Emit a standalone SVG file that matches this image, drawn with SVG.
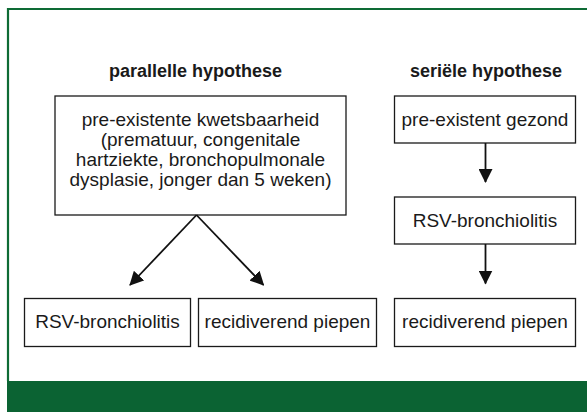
<svg xmlns="http://www.w3.org/2000/svg" width="587" height="412" viewBox="0 0 587 412">
<style>
.box{fill:#fff;stroke:#1a1a1a;stroke-width:1.3}
.t{font-family:"Liberation Sans",Arial,sans-serif;font-size:19px;fill:#1a1a1a;text-anchor:middle}
.h{font-family:"Liberation Sans",Arial,sans-serif;font-size:18px;font-weight:bold;fill:#1a1a1a;text-anchor:middle}
.c{stroke:#111;stroke-width:1.8;fill:none}
</style>
<defs>
<marker id="ah" markerUnits="userSpaceOnUse" markerWidth="14" markerHeight="14" viewBox="0 0 14 14" refX="13" refY="7" orient="auto">
<path d="M0,0 L14,7 L0,14 z" fill="#111"/>
</marker>
</defs>
<rect x="0" y="0" width="587" height="412" fill="#fff"/>
<path d="M8,381 V9 H587" fill="none" stroke="#0e6b35" stroke-width="2.2"/>
<rect x="7" y="381" width="580" height="31" fill="#0b6333"/>
<text class="h" x="195.5" y="77">parallelle hypothese</text>
<text class="h" x="486" y="77">seriële hypothese</text>
<g id="kwetsbaar">
<rect class="box" x="55" y="96" width="291" height="119"/>
<text class="t" x="200.5" y="126">pre-existente kwetsbaarheid</text>
<text class="t" x="200.5" y="146">(prematuur, congenitale</text>
<text class="t" x="200.5" y="166">hartziekte, bronchopulmonale</text>
<text class="t" x="200.5" y="186">dysplasie, jonger dan 5 weken)</text>
</g>
<g id="rsv-par">
<rect class="box" x="24.5" y="298.5" width="166" height="48"/>
<text class="t" x="107.5" y="328">RSV-bronchiolitis</text>
</g>
<g id="piepen-par">
<rect class="box" x="198.5" y="298.5" width="178" height="48"/>
<text class="t" x="287.5" y="328">recidiverend piepen</text>
</g>
<g id="gezond">
<rect class="box" x="394.5" y="96" width="181" height="47"/>
<text class="t" x="485" y="126">pre-existent gezond</text>
</g>
<g id="rsv-ser">
<rect class="box" x="394.5" y="197" width="181" height="47"/>
<text class="t" x="485" y="227">RSV-bronchiolitis</text>
</g>
<g id="piepen-ser">
<rect class="box" x="394.5" y="298.5" width="181" height="48"/>
<text class="t" x="485" y="328">recidiverend piepen</text>
</g>
<g id="connectors">
<line class="c" x1="196.5" y1="215" x2="130" y2="285" marker-end="url(#ah)"/>
<line class="c" x1="196.5" y1="215" x2="263.5" y2="285" marker-end="url(#ah)"/>
<line class="c" x1="485.5" y1="143" x2="485.5" y2="182" marker-end="url(#ah)"/>
<line class="c" x1="485.5" y1="244" x2="485.5" y2="283.5" marker-end="url(#ah)"/>
</g>
</svg>
